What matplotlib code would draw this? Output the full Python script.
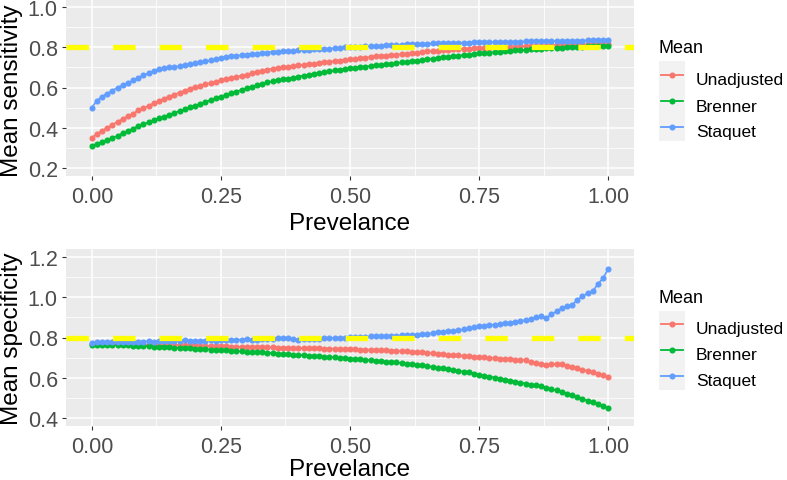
import matplotlib
matplotlib.use("Agg")
import matplotlib.pyplot as plt
import numpy as np
from matplotlib.lines import Line2D
from matplotlib.patches import Rectangle

plt.rcParams['font.family'] = ['Liberation Sans', 'DejaVu Sans']
plt.rcParams['lines.scale_dashes'] = False

# ---------------- data ----------------
prevalence = np.round(np.arange(101) / 100, 2)
series_names = ["Unadjusted", "Brenner", "Staquet"]
series_colors = ["#F8766D", "#00BA38", "#619CFF"]
reference_level = 0.8

sens_unadjusted = [
    0.350, 0.370, 0.385, 0.400, 0.415, 0.430, 0.444, 0.457, 0.470, 0.486,
    0.498, 0.510, 0.521, 0.532, 0.545, 0.555, 0.565, 0.575, 0.585, 0.594,
    0.602, 0.609, 0.616, 0.623, 0.629, 0.636, 0.642, 0.648, 0.653, 0.659,
    0.664, 0.671, 0.677, 0.683, 0.689, 0.694, 0.697, 0.700, 0.704, 0.707,
    0.710, 0.713, 0.716, 0.719, 0.722, 0.725, 0.728, 0.731, 0.734, 0.737,
    0.740, 0.743, 0.746, 0.749, 0.752, 0.755, 0.757, 0.759, 0.761, 0.763,
    0.766, 0.768, 0.771, 0.774, 0.777, 0.779, 0.781, 0.783, 0.785, 0.787,
    0.789, 0.790, 0.792, 0.793, 0.795, 0.796, 0.797, 0.798, 0.799, 0.800,
    0.801, 0.802, 0.803, 0.804, 0.805, 0.806, 0.806, 0.807, 0.808, 0.809,
    0.810, 0.810, 0.811, 0.812, 0.813, 0.814, 0.814, 0.815, 0.816, 0.817,
    0.818]
sens_brenner = [
    0.310, 0.320, 0.330, 0.340, 0.350, 0.360, 0.372, 0.384, 0.396, 0.408,
    0.418, 0.427, 0.436, 0.446, 0.455, 0.465, 0.474, 0.483, 0.492, 0.501,
    0.510, 0.519, 0.528, 0.537, 0.546, 0.555, 0.564, 0.572, 0.580, 0.588,
    0.597, 0.604, 0.611, 0.618, 0.625, 0.632, 0.636, 0.640, 0.644, 0.649,
    0.654, 0.659, 0.663, 0.668, 0.672, 0.677, 0.681, 0.685, 0.688, 0.692,
    0.695, 0.698, 0.701, 0.704, 0.707, 0.710, 0.713, 0.716, 0.719, 0.722,
    0.725, 0.728, 0.731, 0.734, 0.737, 0.741, 0.744, 0.747, 0.750, 0.752,
    0.755, 0.758, 0.761, 0.764, 0.767, 0.770, 0.772, 0.774, 0.776, 0.778,
    0.780, 0.782, 0.784, 0.786, 0.788, 0.790, 0.791, 0.793, 0.794, 0.796,
    0.797, 0.798, 0.799, 0.800, 0.802, 0.803, 0.804, 0.805, 0.806, 0.807,
    0.808]
sens_staquet = [
    0.500, 0.535, 0.555, 0.570, 0.585, 0.600, 0.612, 0.622, 0.635, 0.648,
    0.660, 0.672, 0.683, 0.690, 0.695, 0.700, 0.702, 0.706, 0.712, 0.716,
    0.720, 0.726, 0.730, 0.736, 0.740, 0.748, 0.752, 0.755, 0.758, 0.760,
    0.764, 0.766, 0.768, 0.772, 0.774, 0.776, 0.778, 0.780, 0.782, 0.783,
    0.785, 0.786, 0.788, 0.789, 0.790, 0.791, 0.793, 0.795, 0.797, 0.799,
    0.800, 0.801, 0.803, 0.804, 0.806, 0.807, 0.808, 0.810, 0.811, 0.812,
    0.813, 0.814, 0.815, 0.816, 0.817, 0.818, 0.819, 0.820, 0.820, 0.821,
    0.822, 0.822, 0.823, 0.823, 0.824, 0.824, 0.825, 0.825, 0.826, 0.826,
    0.827, 0.827, 0.828, 0.828, 0.829, 0.829, 0.830, 0.830, 0.830, 0.831,
    0.831, 0.832, 0.832, 0.832, 0.833, 0.833, 0.834, 0.834, 0.835, 0.835,
    0.836]

spec_unadjusted = [
    0.770, 0.769, 0.768, 0.768, 0.767, 0.767, 0.766, 0.766, 0.765, 0.765,
    0.765, 0.764, 0.764, 0.764, 0.763, 0.763, 0.763, 0.762, 0.762, 0.762,
    0.761, 0.760, 0.759, 0.758, 0.758, 0.757, 0.756, 0.755, 0.754, 0.754,
    0.753, 0.753, 0.752, 0.752, 0.751, 0.751, 0.750, 0.750, 0.749, 0.749,
    0.748, 0.748, 0.747, 0.747, 0.746, 0.745, 0.745, 0.744, 0.743, 0.743,
    0.742, 0.741, 0.740, 0.740, 0.739, 0.738, 0.737, 0.736, 0.735, 0.734,
    0.732, 0.731, 0.730, 0.728, 0.726, 0.724, 0.721, 0.719, 0.717, 0.715,
    0.713, 0.711, 0.709, 0.707, 0.705, 0.703, 0.701, 0.699, 0.697, 0.695,
    0.693, 0.691, 0.690, 0.689, 0.688, 0.676, 0.672, 0.670, 0.664, 0.668,
    0.670, 0.666, 0.660, 0.654, 0.648, 0.640, 0.634, 0.627, 0.620, 0.612,
    0.603]
spec_brenner = [
    0.762, 0.761, 0.764, 0.763, 0.765, 0.764, 0.762, 0.761, 0.760, 0.759,
    0.757, 0.756, 0.755, 0.754, 0.753, 0.752, 0.750, 0.748, 0.747, 0.746,
    0.744, 0.743, 0.742, 0.740, 0.739, 0.738, 0.736, 0.735, 0.733, 0.731,
    0.729, 0.728, 0.727, 0.726, 0.724, 0.722, 0.720, 0.718, 0.717, 0.715,
    0.714, 0.712, 0.710, 0.708, 0.706, 0.705, 0.703, 0.701, 0.699, 0.697,
    0.695, 0.693, 0.691, 0.689, 0.687, 0.685, 0.683, 0.680, 0.678, 0.676,
    0.673, 0.670, 0.667, 0.664, 0.661, 0.658, 0.654, 0.650, 0.647, 0.643,
    0.639, 0.634, 0.630, 0.626, 0.621, 0.616, 0.611, 0.606, 0.601, 0.596,
    0.591, 0.586, 0.581, 0.576, 0.571, 0.566, 0.562, 0.557, 0.551, 0.544,
    0.537, 0.530, 0.521, 0.512, 0.503, 0.495, 0.486, 0.477, 0.468, 0.459,
    0.450]
spec_staquet = [
    0.772, 0.776, 0.776, 0.778, 0.776, 0.777, 0.778, 0.778, 0.780, 0.779,
    0.780, 0.781, 0.780, 0.782, 0.781, 0.783, 0.784, 0.783, 0.786, 0.785,
    0.784, 0.783, 0.785, 0.786, 0.785, 0.787, 0.786, 0.788, 0.790, 0.789,
    0.792, 0.790, 0.789, 0.791, 0.793, 0.795, 0.797, 0.798, 0.796, 0.793,
    0.790, 0.791, 0.792, 0.793, 0.795, 0.796, 0.797, 0.798, 0.799, 0.800,
    0.801, 0.802, 0.803, 0.804, 0.805, 0.806, 0.806, 0.807, 0.808, 0.809,
    0.810, 0.811, 0.813, 0.814, 0.816, 0.818, 0.821, 0.826, 0.828, 0.830,
    0.832, 0.836, 0.840, 0.845, 0.850, 0.855, 0.858, 0.861, 0.864, 0.867,
    0.870, 0.874, 0.878, 0.882, 0.886, 0.890, 0.900, 0.905, 0.898, 0.915,
    0.930, 0.945, 0.955, 0.962, 0.985, 1.005, 1.020, 1.030, 1.065, 1.095,
    1.140]

x_ticks = [0.0, 0.25, 0.5, 0.75, 1.0]
x_tick_labels = ["0.00", "0.25", "0.50", "0.75", "1.00"]
sens_ticks = [0.2, 0.4, 0.6, 0.8, 1.0]
sens_tick_labels = ["0.2", "0.4", "0.6", "0.8", "1.0"]
spec_ticks = [0.4, 0.6, 0.8, 1.0, 1.2]
spec_tick_labels = ["0.4", "0.6", "0.8", "1.0", "1.2"]
x_title = "Prevelance"
sens_title = "Mean sensitivity"
spec_title = "Mean specificity"
legend_title = "Mean"

# ---------------- figure ----------------
W, H = 787, 481
fig = plt.figure(figsize=(W / 100, H / 100), dpi=100)


def fx(px):
    return px / W


def fy(py):
    return 1 - py / H


PANEL_L, PANEL_R = 66, 634
ax_top = fig.add_axes([fx(PANEL_L), fy(177), (PANEL_R - PANEL_L) / W, 177 / H])
ax_bot = fig.add_axes([fx(PANEL_L), fy(427), (PANEL_R - PANEL_L) / W, (427 - 250) / H])

TICK_FS = 15.5
TITLE_FS = 17.5
MS = 4.4


def style_panel(ax, yticks, ylabels, ylim, yminor):
    ax.set_facecolor("#EBEBEB")
    for s in ax.spines.values():
        s.set_visible(False)
    ax.set_xlim(-0.05, 1.05)
    ax.set_ylim(*ylim)
    ax.set_xticks(x_ticks)
    ax.set_xticklabels(x_tick_labels)
    ax.set_xticks([0.125, 0.375, 0.625, 0.875], minor=True)
    ax.set_yticks(yticks)
    ax.set_yticklabels(ylabels)
    ax.set_yticks(yminor, minor=True)
    ax.grid(which="major", color="white", lw=1.1)
    ax.grid(which="minor", color="white", lw=0.55)
    ax.set_axisbelow(True)
    ax.tick_params(which="major", length=2.9, width=0.8, color="#333333",
                   labelcolor="#4D4D4D", labelsize=TICK_FS)
    ax.tick_params(axis="x", which="major", pad=4.4)
    ax.tick_params(axis="y", which="major", pad=3.0)
    ax.tick_params(which="minor", length=0)


def draw_series(ax, values_list):
    for vals, c in zip(values_list, series_colors):
        ax.plot(prevalence, vals, color=c, lw=1.2, zorder=2)
    for vals, c in zip(values_list, series_colors):
        ax.plot(prevalence, vals, color=c, lw=0, marker="o", ms=MS,
                mew=0, zorder=3)
    ax.axhline(reference_level, color="#FFFF00", lw=3.8,
               dashes=(16.2, 17.3), zorder=5)


style_panel(ax_top, sens_ticks, sens_tick_labels, (0.16, 1.04), [0.3, 0.5, 0.7, 0.9])
style_panel(ax_bot, spec_ticks, spec_tick_labels, (0.36, 1.24), [0.5, 0.7, 0.9, 1.1])

draw_series(ax_top, [sens_unadjusted, sens_brenner, sens_staquet])
draw_series(ax_bot, [spec_unadjusted, spec_brenner, spec_staquet])

# axis titles
fig.text(fx(350), fy(230), x_title, ha="center", va="baseline", fontsize=TITLE_FS)
fig.text(fx(350), fy(476), x_title, ha="center", va="baseline", fontsize=TITLE_FS)
fig.text(fx(18.5), fy(90.5), sens_title, rotation=90, rotation_mode="anchor",
         ha="center", va="baseline", fontsize=TITLE_FS)
fig.text(fx(18.5), fy(339), spec_title, rotation=90, rotation_mode="anchor",
         ha="center", va="baseline", fontsize=TITLE_FS)


# legends
def draw_legend(title_base, key_top, key_h, label_bases):
    fig.text(fx(659), fy(title_base), legend_title, ha="left", va="baseline",
             fontsize=13)
    for i, (name, c, lb) in enumerate(zip(series_names, series_colors, label_bases)):
        top = key_top + i * key_h
        fig.add_artist(Rectangle((fx(659), fy(top + key_h)), 26 / W, key_h / H,
                                 transform=fig.transFigure, facecolor="#F2F2F2",
                                 edgecolor="none"))
        cy = top + key_h / 2
        fig.add_artist(Line2D([fx(661), fx(683)], [fy(cy), fy(cy)],
                              transform=fig.transFigure, color=c, lw=1.3))
        fig.add_artist(Line2D([fx(672)], [fy(cy)], transform=fig.transFigure,
                              color=c, lw=0, marker="o", ms=MS, mew=0))
        fig.text(fx(696), fy(lb), name, ha="left", va="baseline", fontsize=12.5)


draw_legend(53.3, 62.3, 26.4, [85.0, 111.5, 137.0])
draw_legend(302.7, 311.7, 26.3, [334.0, 360.0, 385.7])

fig.savefig("out.png", dpi=100)
